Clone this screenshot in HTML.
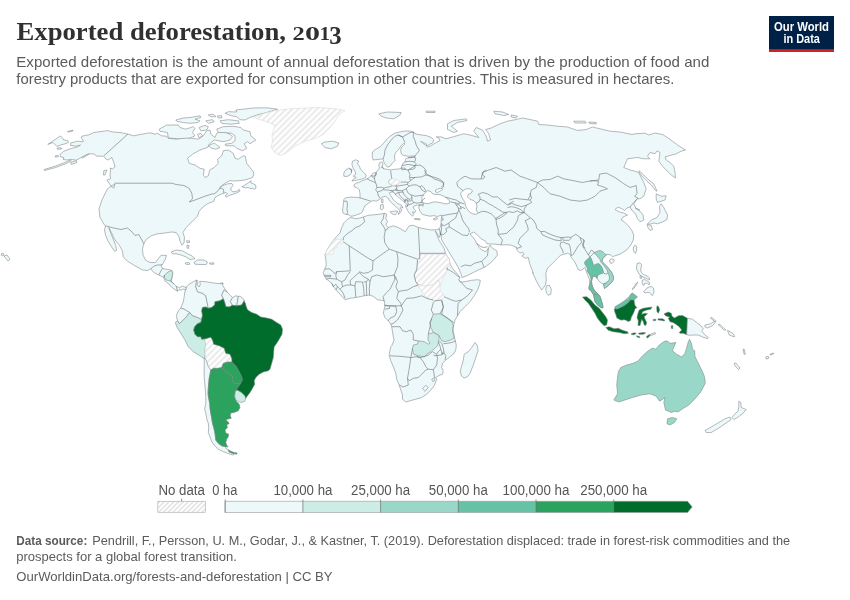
<!DOCTYPE html>
<html lang="en">
<head>
<meta charset="utf-8">
<title>Exported deforestation, 2013</title>
<style>
html,body{margin:0;padding:0;background:#fff;}
body{width:850px;height:600px;overflow:hidden;font-family:"Liberation Sans",sans-serif;}
svg{will-change:transform;display:block;position:absolute;left:0;top:0;}
text{font-family:"Liberation Sans",sans-serif;}
.ttl{font-family:"Liberation Serif",serif;font-weight:bold;fill:#303030;}
.sub{fill:#5b5b5b;font-size:14.2px;}
.ft{fill:#5b5b5b;font-size:13px;}
.lg{fill:#555;font-size:14px;text-anchor:middle;}
.c{stroke:#7b8083;stroke-width:0.55;stroke-linejoin:round;}
.c polyline{stroke:#6c7174;stroke-width:0.6;}
</style>
</head>
<body>
<svg width="850" height="600" viewBox="0 0 850 600">
<defs>
<pattern id="hatch" patternUnits="userSpaceOnUse" width="4.4" height="4.4" patternTransform="rotate(45)">
<rect width="4.4" height="4.4" fill="#fff"/>
<line x1="2.2" y1="0" x2="2.2" y2="4.4" stroke="#e6e6e6" stroke-width="1.6"/>
</pattern>
<pattern id="hatchL" patternUnits="userSpaceOnUse" width="3.4" height="3.4" patternTransform="rotate(45)">
<rect width="3.4" height="3.4" fill="#fff"/>
<line x1="1.7" y1="0" x2="1.7" y2="3.4" stroke="#dadada" stroke-width="1.2"/>
</pattern>
</defs>
<rect width="850" height="600" fill="#fff"/>
<g class="c" fill="#edf8fb">
<polygon points="47.8,144.4 52.5,141.2 60.6,135.9 63.1,138.8 63.8,140 67.8,140.6 68.5,142.5 65,143.8 60.6,145 56.9,146.5 53.1,142.5"/>
<polygon points="67.5,131.5 72.8,130 73,131 68.1,132.1"/>
<polygon points="56.9,148.1 61.2,147.8 61.5,149 57.5,149.2"/>
<polygon points="55,156 58.1,155.4 58.5,156.6 55.6,157.2"/>
<polygon points="44,169.6 55,166.2 65,162.5 70.6,159.8 71.2,161 65.6,163.8 55.6,167.5 44.5,170.5"/>
<polygon points="70.6,162.5 76.2,160.6 76.9,162.5 71.2,164.4"/>
<polygon points="81.2,156.9 88.1,153.5 88.8,154.4 82.5,158.1"/>
<polygon points="103.8,170.6 106.9,170 105,175 103.5,175.0"/>
<polygon points="127.9,134.1 120,132.5 111.9,131.9 107.5,130.6 101.2,131.5 93.8,132.5 88.8,134.8 81.9,136.2 81.2,138.1 83.1,140 83.1,141.9 77.5,141.2 70.6,143.1 70.6,145.4 76.2,146.2 80.6,145 77.5,146.9 71.2,148.5 63.8,151.2 60,154.4 60.6,156.9 63.8,157.5 63.1,159.4 66.9,160 70.6,159.4 76.2,160.2 81.2,157.5 88.1,153.8 93.8,154 96.9,156.2 103.8,156.2 105.6,158.8 108.1,160 111.9,157.5 113.8,162.5 115,166.9 112.5,168.8 110.2,168.1 110.6,170 110,175 110.6,178.8 106.9,180 111.2,186.2 113.8,188.1 115,184 111.2,186.2 107.5,188.8 105.5,192.5 102,200 99,208.8 100,217.5 104.5,225 105.5,225.8 104.5,230 105.5,235 108,241.2 111.2,246.2 114.5,251.2 116.5,250.5 115.8,245.5 113,238.8 110.5,232.5 108.8,227.5 112,233.8 115,240 119.5,245.5 122.5,251.2 123.2,257 127.5,261.2 135,265.8 142.5,270 147.5,270.5 150.8,268.8 153.8,272.5 158.8,275 163.8,277.5 165,281.2 168.8,283.8 170.5,286.2 173.8,288.8 177.5,291.2 179,289.5 181.2,290.2 183.8,289 185.8,290.5 186.5,287 185,287.2 182.5,286 179.5,287.8 176.2,286.2 173.8,283.8 171.2,281.2 172,277.5 172.8,273 171.2,270 166.2,269.2 162.5,268.5 161.2,266.2 162.8,263.8 165,260 166.5,255.5 161.2,255.2 158.8,258 155.5,262.5 150,262.5 145.5,260 143,255 142.5,248.8 143.8,243.8 146.2,239.5 151.2,235.8 157.5,233.8 165,233 171.2,232 176.2,232.5 178.8,236.2 180,241.2 182,245.2 184,243 184.5,237.5 183,232.5 186.2,227.5 192.5,221.2 197.5,216.2 199.2,211.2 202.5,207.5 207.5,203.8 213.8,201.2 215,197.5 220,194.5 226.2,192.5 227.5,194 225.2,195.6 226.2,197.2 228.8,195.6 232.5,194.4 236.2,193.1 239.8,191.2 239.4,189.4 236.9,191.2 233.1,191.9 230.6,190 231.2,187.5 233.1,185.6 231.9,183.5 227.5,183.8 222.5,185.6 219.4,188.1 222.5,185 226.2,182.5 230,180.6 233.8,181 240,180.6 245,180 252.5,177.5 253.8,174.4 253.3,171.7 250,167.5 246.7,163.3 245.3,156.3 243.3,155.8 238.3,159.2 235,158.3 233.3,153.3 228.3,150 223.3,150.8 221.7,155.8 217.5,159.2 218.3,163.3 214.2,167.5 209.7,170 208.3,175.8 205,177.5 203.3,175 204.2,169.2 200,168.3 195,165 189.2,163.3 187.5,158.3 192.5,154.2 200,150 207.5,147.5 209.2,144.2 214.2,140 223.3,141.7 230,140 232.5,136.7 230,134.2 225.8,132.5 220,131.7 216.7,133.3 215,137.5 210.8,134.2 210,130 206.7,130.8 203.3,135.8 198.3,139.2 191.7,138.3 185.8,137.5 176.7,139.2 168.3,138.3 166.7,136.3 161.7,135.8 157.5,133.3 155,134.2 150,132.8 140,134.5 133.8,135.8"/>
<polygon points="159.2,129.2 166.7,125 178.3,125 180,127.5 185.8,129.2 193.3,126.7 195,128.3 192.5,132.5 195,135.8 190,138 178.3,138.7 168.3,138 167.5,132.5 160,131.3"/>
<polygon points="175.8,120 183.3,118 190,117.5 200,115.8 200.8,117.5 195,119.2 200,120.8 198.3,122.5 190,123.3 183.3,122.5 176.7,121.3"/>
<polygon points="235.8,110 253.3,108 266.7,107.8 277.5,109.2 266.7,112.5 256.7,115 250,117.5 245,120 240,119.7 236.7,116.7 231.7,115.8 225,113.3 228.3,111.7 236.7,112.0"/>
<polygon points="220,120.8 228.3,119.7 238.3,120.8 239.2,123.3 230,124.2 221.7,123.3"/>
<polygon points="208.3,115 213.3,114.2 215.8,116.7 210.8,116.7"/>
<polygon points="217.5,115.8 221.7,115.8 221.7,118 218.3,118.0"/>
<polygon points="205.8,120.8 212.5,119.7 214.2,121.7 208.3,123.3"/>
<polygon points="216.7,129.2 223.3,126.7 233.3,126.3 240.8,127.5 243.3,130 250,131.7 250.8,135.8 255.8,140 250,143.7 247.5,141.7 244.2,143.7 246.7,148.3 242.5,150.8 236.7,148.3 234.2,145.8 225.8,145.8 225,144.2 231.7,143.3 235,140.8 235,135.8 231.7,133.3 223.3,132.5 218.3,132.5"/>
<polygon points="199.2,127.5 205,125.3 208.3,126.7 206.7,130 200.8,130.8"/>
<polygon points="197.5,134.2 200.8,133.3 202.5,135.8 199.2,138.0"/>
<polygon points="208.3,145.8 214.2,143 220,147.5 215.8,149.2 211.7,148.3"/>
<polygon points="241.9,186.9 245,185 248.8,182.5 251.2,180.6 250.6,182.5 253.1,183.8 255.6,185 256,188.1 254.4,189.4 252.5,188.1 250,188.8 248.8,187.5 245.6,187.8"/>
<polygon points="171.2,252 176.2,250 182.5,250.8 187.5,253.8 192.5,256.2 195,258.8 190,259.5 186.2,257 181.2,255 176.2,253.8 172.5,253.8"/>
<polygon points="193.8,262.5 197.5,260 203.8,260 207.5,262 206.2,264.5 200,264.5 195,264.2"/>
<polygon points="185,263 188.8,262.5 190,264.2 186.2,264.5"/>
<polygon points="209.5,263 213.8,262.8 213.8,264.2 210,264.2"/>
<polygon points="220.5,283 223,283 222.5,285 220.5,285.0"/>
<polygon points="186.5,240.8 189.5,240.8 189.5,242.5 187,242.5"/>
<polygon points="187,245 189,245.5 188.5,248.5 187,248.0"/>
<polygon points="164.5,275 168,272 172,270.5 172.8,273.8 171.8,278 170.5,281.2 166.2,280 164.5,277.5" fill="#ccece6"/>
<polyline points="127.9,134.1 104,155.6" fill="none"/>
<polyline points="114.5,183.2 171.8,183.2 176.2,184.5 183.8,185.5 188.8,188 191.8,193 192.5,198.8 189.2,202 195,200 205,196.2 212.5,193.8 213.8,194 216.9,191.9 219.4,188.8 221.2,188.1 223.5,189.4 223.8,193.1" fill="none"/>
<polyline points="105.5,225.8 113.8,228 121.2,229.5 127.5,228 131.2,231.2 135,235.5 138.8,234.5 141.2,238.8 143.8,243.8" fill="none"/>
<polyline points="150.8,268.8 153.8,266.2 157,265 161.2,265 162.2,264.0" fill="none"/>
<polyline points="158.8,275 161.2,270.5 162.5,268.5" fill="none"/>
<polyline points="163.8,277.5 164.5,275.0" fill="none"/>
<polyline points="170.5,281.2 173.8,283.8" fill="none"/>
<polyline points="177.5,291.2 176.2,286.2" fill="none"/>
<polygon points="186.5,287 189.2,284.2 193.3,281.7 196.7,280 195.8,286.7 197.5,291.7 202.5,293.3 205.8,295.8 207,301.7 208.3,308.3 205.8,307 202.5,307.5 201.7,310.8 202.5,315 201.7,319.2 200.8,319.2 197.5,317.5 192.5,315.8 189.7,312.5 186.7,310.8 184.2,309.2 180.8,308 181.3,306.7 183.3,301.7 184.2,296.7 185,290.8 185.7,290.5"/>
<polygon points="196.7,280 198,281.3 197.5,285 199.2,287 200.3,284.2 199.7,281.3 205.8,281.7 213.3,283 220,283.7 223,283 222.5,285 225,289.2 227.5,292.5 224.2,290 221.7,295 223.3,298.7 220,300.8 215,301.7 214.7,305 211.7,307.5 208.3,308.3 207,301.7 205.8,295.8 202.5,293.3 197.5,291.7 195.8,286.7"/>
<polygon points="227.5,292.5 230.8,295.8 232.5,297.5 230.3,301.7 232.5,305.3 229.2,307 225.8,306.7 224.7,302.5 223.3,298.7 221.7,295 224.2,290.0"/>
<polygon points="232.5,297.5 235.8,295.8 238.3,296.3 237.5,301.7 236.7,305.8 232.5,305.3 230.3,301.7"/>
<polygon points="238.3,296.3 240,296.3 243.3,298.7 244.2,300.8 241.7,305 236.7,305.8 237.5,301.7"/>
<polygon points="177.5,320.8 176.3,315.8 178.3,310.8 180.8,308 184.2,309.2 186.7,310.8 189.7,312.5 185.8,317.5 182.5,320.8 179.2,323.7"/>
<polygon points="189.7,312.5 192.5,315.8 197.5,317.5 200.8,319.2 201.7,319.2 200.8,322.5 197.5,323.7 194.7,326.7 193.7,330 195,334.2 197.5,336.7 200.8,336.7 201.7,339.2 204.7,339.2 205.8,344.2 205,350 205.3,355 204.2,358.7 200,355.8 193.3,351.7 188.3,346.7 185,340 180.8,333.3 176.7,326.7 175.3,322.5 177.5,320.8 179.2,323.7 182.5,320.8 185.8,317.5" fill="#ccece6"/>
<polygon points="204.7,339.2 205.8,338.7 210.8,337.2 212.5,340 213.7,344.2 219.2,345.8 224.2,348.3 225.8,353.3 230,354.2 231.7,358.3 232,362 227.5,362 223.3,363.3 221.7,367.5 217.5,368.3 213.3,368.3 210.8,370 208.3,366.7 207,362.5 205.3,358.3 205.3,355 205,350 205.8,344.2" fill="url(#hatch)" stroke="#d6d6d6"/>
<polygon points="204.2,358.7 204.2,370 204.2,376.7 204.7,383.3 205.3,390 205.8,396.7 205.8,403.3 204.7,409.2 205.8,413.3 207,420 208.3,423.3 208.7,427.5 208.3,432.5 210,436.7 211.7,441.7 214.7,445.8 218.3,449.2 223.3,451.7 227.5,453.3 232.5,455 234.2,454.2 232.5,453.3 229.2,452 228.3,449.7 225.8,448.3 225.8,446.7 221.7,445.8 218.3,443.3 215.8,440 215.3,435.8 214.7,431.7 213.7,427.5 212.5,423.3 211.7,418.3 210.8,413.3 210,408.3 209.7,403.3 208.7,398.3 208,393.3 208.3,388.3 208.7,383.3 209.2,378.3 210,374.2 210.8,370 208.3,366.7 207,362.5 205.3,358.3"/>
<polygon points="210.8,370 213.3,368.3 217.5,368.3 221.7,367.5 226.7,372.5 230.8,375 233,377 232,379.7 233.7,383 237.5,383.7 241.3,382.5 242.5,380.3 240.8,383.3 238.3,386.7 235.8,390.3 235,393.3 234.7,396.7 235.8,400 236.7,401.7 239.2,404.2 240,407.5 238.3,410.8 234.2,412.5 230.8,413 230.3,415.8 231.3,418.3 227.5,419.2 225.8,420 228.3,422 229.2,423.7 226.7,424.7 227.5,427.5 225,430 225.8,433 228.7,434.2 228.3,436.7 226.7,439.2 225.8,442.5 226.7,445 228,447 225.8,446.7 221.7,445.8 218.3,443.3 215.8,440 215.3,435.8 214.7,431.7 213.7,427.5 212.5,423.3 211.7,418.3 210.8,413.3 210,408.3 209.7,403.3 208.7,398.3 208,393.3 208.3,388.3 208.7,383.3 209.2,378.3 210,374.2 210.8,370.0" fill="#2ca25f"/>
<polygon points="228.3,449.7 230.8,451.3 234.2,452.5 237.2,453 236.7,454.2 232.5,453.3 229.2,452.0" fill="#2ca25f"/>
<polygon points="235.8,390.3 237.5,390 241.7,392.5 245,395.8 245.8,398.3 244.7,401.3 241.7,402.5 238.3,401.7 235.8,400 234.7,396.7 235,393.3" fill="#ccece6"/>
<polygon points="223.3,363.3 227.5,362 232,362 234.2,364.2 235.8,365.8 238.3,370 240,373.3 241.7,376.7 242.5,380 242.5,380.3 241.3,382.5 237.5,383.7 233.7,383 232,379.7 233,377 230.8,375 226.7,372.5 221.7,367.5" fill="#2ca25f"/>
<polygon points="223.3,298.7 220,300.8 215,301.7 214.7,305 211.7,307.5 208.3,308.3 205.8,307 202.5,307.5 201.7,310.8 202.5,315 201.7,319.2 200.8,322.5 197.5,323.7 194.7,326.7 193.7,330 195,334.2 197.5,336.7 200.8,336.7 201.7,339.2 205.8,338.7 210.8,337.2 212.5,340 213.7,344.2 219.2,345.8 224.2,348.3 225.8,353.3 230,354.2 231.7,358.3 232,362 234.2,364.2 235.8,365.8 238.3,370 240,373.3 241.7,376.7 242.5,380 240.8,383.3 238.3,386.7 235.8,390.3 237.5,390 241.7,392.5 245,395.8 245.8,398.3 247.5,395.8 250,392.5 252.5,388.3 254.7,384.2 254.2,380.8 255.8,377.5 259.2,374.2 263.3,372 268.3,370.8 270,369.2 271.7,363.3 273.3,357.5 273.7,351.7 274.2,346.7 276.7,343.3 279.2,339.2 282,334.2 282.5,329.2 280.8,325 276.7,322.5 271.7,319.2 266.7,318 260.8,317 256.7,314.2 251.7,312.5 247.5,309.7 246.3,306.7 245.3,303.3 244.2,300.8 241.7,305 236.7,305.8 232.5,305.3 229.2,307 225.8,306.7 224.7,302.5" fill="#006d2c"/>
<polygon points="350.8,217.5 355.8,218.7 360,218 363.3,217 368.3,215.3 375,214.7 380,214.2 384.2,213.3 386.7,214.2 385.8,218.3 387.5,221.7 385.8,225 388.3,227.5 393.3,225.8 398.3,227.5 402.5,230 405.3,231.7 407.5,228.3 409.2,225.8 413.3,225.3 418.3,227.5 424.2,228.7 430.8,230 436.7,229.7 439.2,228.7 440.7,233.3 439.3,237.5 437,233.7 435.3,230.8 439.2,240.8 444.2,248.3 445.8,254.2 449.2,259.2 450,264.2 452.5,268.3 456.7,273.3 460,277.5 458.7,280 460.8,282 465,281.7 471.7,280.3 477.5,279.7 480.3,280.3 479.7,284.2 477.5,290 474.2,295.8 470,301.7 465,306.7 460,311.7 457.5,315.8 455,320 453.7,325 453,330 454.2,335.8 455,340 456.3,345 455.8,350 454.2,353.3 450,356.7 445.8,360 442.5,363.3 441.7,367.5 443.3,370.8 442.5,374.2 438.3,375.8 435.8,377.5 436.7,379.2 435.8,381.7 434.2,385.8 430.8,390 426.7,394.2 421.7,397.5 415.8,399.2 410,400.8 405.8,402 402.5,399.2 402.5,395 400.8,390 399.2,385 396.7,379.2 395.8,373.3 393.3,366.7 390.8,360.8 389.2,355.8 389.7,351.7 390.8,346.7 391.7,345.8 394.2,340 393.3,336.7 392.5,331.7 391.7,326.7 390.8,324.2 388.3,320.8 385,317.5 383.3,313.3 384.2,309.2 385,305.8 384.2,300.8 381.7,300.3 377.5,299.7 373.3,296.3 369.2,295 364.2,295.8 360,296.7 355.8,297.5 350,298.3 345,299.7 340,294.2 336.7,290.8 334.2,287.5 331.7,283.3 326.7,279.2 324.2,275.8 323.3,272.5 324.7,269.2 326.3,265 325.8,260 325,254.7 327.5,249.2 330,245 332.5,241.7 334.2,239.2 340,233 341.7,227.5 344.2,222.5 347.5,219.2"/>
<polygon points="475,342.5 477.5,345.8 478,350.8 475.8,357.5 473.3,365 470,373.3 467.5,376.7 464.2,378 461.3,375.8 460.3,370.8 461.7,365.8 463.3,360 464.2,354.2 468.3,351.7 471.7,347.5"/>
<polygon points="334.2,239.2 343.3,239.7 343.3,243 337.5,243.3 336.7,248 333.7,248.7 333,254.2 325,254.7 327.5,249.2 330,245 332.5,241.7" fill="url(#hatch)" stroke="#d6d6d6"/>
<polygon points="420,254.2 445.8,254.2 449.2,259.2 450,264.2 447.5,267.5 445.8,273.3 442.5,279.2 440,285 440,290 442.5,293.3 444.2,296.7 441.7,300 436.7,300.8 432.5,300 427.5,299.2 424.2,295 420.8,290 417.5,285.8 415.8,281.7 414.2,275.8 415,271.7 417.5,267.5 417.5,260 420,259.2" fill="url(#hatch)" stroke="#d6d6d6"/>
<polyline points="417.5,285.8 420,284.2 423.3,285.8 428.3,285.8 433.3,284.2 436.7,280.8 438.7,280 440,285.0" fill="none" style="stroke:#d0d0d0"/>
<polygon points="433.3,314.2 440,313.7 446.7,317.5 451.7,321.7 453.3,325 452.5,330 454.2,338.3 450.8,340 445,341.7 441.7,340.8 439.2,335.8 436.7,334.2 433.3,332.5 430.8,327.5 430,322.5 431.7,318.3" fill="#ccece6"/>
<polygon points="428.3,334.2 433.3,332.5 436.7,334.2 439.2,335.8 438.7,341.7 437.5,345.8 435,348.3 431.7,350.8 428.3,353.3 424.2,356.7 418.3,355.8 413.3,354.2 412.5,348.3 413.3,345 417.5,344.2 418.3,340.8 424.2,341.7 428.3,344.2 430,343.3 428,340.0" fill="#ccece6"/>
<polyline points="363.3,217 364.7,221.7 360,225.8 355.8,227.5 351.7,230.8 346.7,234.2 343.3,237.5 343.3,240.0" fill="none"/>
<polyline points="384.2,213.3 383,219.2 380.8,222.5 384.2,227.5 385.3,230 386.7,230 388.3,227.5" fill="none"/>
<polyline points="385.3,230 384.2,236.7 384.7,242.5 386.7,245.8 389.2,249.2 383.3,253.3 373,260.8 368.3,258.3 349.2,245.8 343.3,241.7" fill="none"/>
<polyline points="389.2,249.2 396.7,251.7 417.5,259.2 419.7,258.3 419.7,253.3 418.3,227.5" fill="none"/>
<polyline points="419.7,253.3 445,253.3" fill="none"/>
<polyline points="349.2,245.8 350.3,270.8 336.7,271.7 335,273.7 332.5,271.3 329.2,268.7 324.7,269.2" fill="none"/>
<polyline points="396.7,251.7 398,258.3 397.5,266.7 394.2,275.0" fill="none"/>
<polyline points="373,260.8 372.5,270 368.3,272.5 363.7,273.3 359.2,271.7" fill="none"/>
<polyline points="336.7,271.3 335.8,275.8 336.7,279.2 330,278.3 325.8,279.2" fill="none"/>
<polyline points="324.2,275.3 330.8,275.3 330.8,276.7 324.7,276.7" fill="none"/>
<polyline points="336.7,279.2 341.7,281.7 342.5,286.7 340,289.2 337.5,286.7 335.8,284.2 333.3,286.7 331.7,283.3" fill="none"/>
<polyline points="340,289.2 343.3,293.3 345,298.3" fill="none"/>
<polyline points="337.5,286.7 335.8,290.0" fill="none"/>
<polyline points="342.5,286.7 346.7,285 350.8,285 355,285.8 355.8,297.5" fill="none"/>
<polyline points="355,285.8 355.8,281.7 362.5,282 363.7,288.3 364.2,295.8" fill="none"/>
<polyline points="363.7,282 366.3,281.7 366.7,295.5" fill="none"/>
<polyline points="366.3,281.7 368.3,279.2 370,281.7 369.3,288.3 369.5,295.3" fill="none"/>
<polyline points="350.8,285 350,280.8 353.3,277.5 359.2,272.5 363.7,276.7 368.3,279.2" fill="none"/>
<polyline points="341.7,281.7 345,280 347.5,275 350.3,271.7" fill="none"/>
<polyline points="370,281.7 371.7,276.7 376.7,275 383.3,276.7 390,275.8 394.2,275 395.8,277.5" fill="none"/>
<polyline points="384.2,300.8 383,296.7 386.7,292.5 390,289.2 393.3,282.5 395.8,277.5 397.5,281.7 395.8,286.7 398.3,291.7 396.7,298.3 400.8,303.3 401.3,305.8" fill="none"/>
<polyline points="394.2,275 395,279.2" fill="none"/>
<polyline points="417.5,260 416.7,270 414.2,275 415.8,281.7 418.3,285 413.3,286.7 407.5,290 401.7,290.8 398.3,291.7" fill="none"/>
<polyline points="384.2,305 388.3,305.8 395.8,305.8 401.3,305.8 404.2,301.7 406.7,298.3 413.3,298 421.7,295.8 426.7,298.3 433.3,300.0" fill="none"/>
<polyline points="385,305.8 389.2,305.8 389.7,308.3 385,309.2" fill="none"/>
<polyline points="389.7,305.8 395.8,306.3 396.7,311.7 395,315.8 390,318.3 388.3,320.8" fill="none"/>
<polyline points="401.3,305.8 403,310 400,315.8 397.5,320 393.3,323.3 390.8,324.2" fill="none"/>
<polyline points="391.7,326.7 400,326.7 402.5,330.8 406.7,331.7 410.8,330 413.3,334.2 413.3,340 417.5,340.8 418.3,340.8" fill="none"/>
<polyline points="390,355.8 400,356.3 410.8,357.5 416.7,356.7 420,357.5" fill="none"/>
<polyline points="412.5,348.3 410.8,357.5" fill="none"/>
<polyline points="433.3,355 435,355.8 441.7,355 443.3,351.7" fill="none"/>
<polyline points="433.3,314.2 431.3,310 433.3,302.5 435,300.8 441.7,300 443.3,307.5 440,313.7" fill="none"/>
<polyline points="430,322.5 431.3,320 431.7,318.3" fill="none"/>
<polyline points="428.3,334.2 429.2,330 430.3,325.8 430,322.5" fill="none"/>
<polyline points="447.5,267.5 446.7,269.2 449.2,270 453.3,272.5 457.5,275.8 460,277.5" fill="none"/>
<polyline points="458.7,280 460.8,282 466.7,288.3 472.5,290 467.5,295.8 461.7,300 455.8,301.3 451.7,300 445.8,297.5 444.2,296.7" fill="none"/>
<polyline points="461.7,300 458,303.3 457.5,315.8" fill="none"/>
<polyline points="441.7,314.2 453.7,322.5" fill="none"/>
<polyline points="441.7,300.8 443.3,306.7 441.7,314.2" fill="none"/>
<polyline points="410.8,357.5 410,363.3 408.7,371.7 407.5,378.3 408.3,385 403.3,387 399.2,385.0" fill="none"/>
<polyline points="407.5,378.3 409.2,380.8 413.3,378.3 418.3,377.5 421.7,374.2 425.8,370 428.3,369.2 433.3,369.7 434.2,375 434.7,378.3" fill="none"/>
<polyline points="420,357.5 423.3,361.7 425.8,366.7 428.3,369.2" fill="none"/>
<polyline points="433.3,369.7 436.7,365 437.5,358.3 436.7,354.2 432.5,351.7 428.3,355 424.2,356.7 420,357.5 416.7,356.7" fill="none"/>
<polyline points="439.2,340.8 441.7,343.3 443.3,348.3 444.2,353.3 442,354.2 440.8,349.2 439.7,345 438.3,341.7" fill="none"/>
<polyline points="436.7,354.2 438.3,351.7 440.8,349.2" fill="none"/>
<polyline points="444.2,353.3 445.8,355.8 445,360.0" fill="none"/>
<polyline points="455.8,340.8 451.7,342.5 447.5,343.3 443.3,343.7" fill="none"/>
<polygon points="422.5,388.3 425.8,385.3 428.3,387.5 425,391.3"/>
<polygon points="431.7,379.2 433.7,378 435,380 433,381.7"/>
<polygon points="373.1,160 372.2,156.2 372.5,151.9 375.6,149.4 380,146.9 383.1,143.8 386.2,140 390,136.2 395,133.1 400,131.9 405,131 410,131 413.8,132.2 415,133.8 420,134.8 426.2,135.6 431.2,137.5 433.8,140 432.5,143.1 429.4,144.4 426.9,146.2 426.2,143.8 423.1,142.5 420.6,141.2 422.5,143.1 426.2,145.6 427.5,146.9 430,146.2 433.1,144.4 436.2,142.5 440,140.6 438.8,138.1 436.2,136.9 441.2,136.9 446,138.8 452.5,137 463.8,133.8 470,135 478.8,137.5 473.8,131.2 476.2,127.5 482.5,130 486.2,136.2 487.5,141.2 490.5,140 488.8,133.8 485.5,129.5 491.2,128 495,126.2 500,123.8 507.5,121.2 516.2,119.5 522.5,118 530,119.5 537.5,121.2 538.8,124.5 547.5,125 557.5,126.2 567.5,127 577.5,130.5 586.2,129.5 592.5,127 600,128.8 610,131.2 620,132 632,134.5 635,133.8 645,133.2 648.8,135 655,133 662.5,134.5 667.5,137.5 672.5,141.2 677.5,145 685.5,150 681.2,151.2 676.2,153.8 670,155.5 665,157 666.2,160 670,162.5 673.8,166.2 675,172.5 675.5,178 671.2,175 666.2,170 662.5,166.2 658.8,161.2 659.5,156.2 660,152.5 657,150.8 655,153.8 650,152.5 647.5,156.2 650,158.8 643.8,158.8 637.5,157.5 627.5,158.8 623.8,167.5 630,170 635,171.2 638.8,172.5 641.2,177.5 643.8,182.5 646.2,188.8 643.8,196.2 640,198.8 637.5,198.8 636.2,200 633.8,203.8 636.2,208.8 640,211.2 643,215 643.8,220 640,221.8 637.5,218.8 635.5,213.8 632.5,211.2 630,207 627,208 624.5,210.5 622,208.8 618,207 615,209.5 619.5,212 623.8,213 627.5,215 623,217 621.2,220 624.2,221.7 628.3,225.8 631.7,230 633.7,235 633.3,240 630.8,245 626.7,250 620,254.2 615,255.8 612.5,256.7 610.8,255 606.7,254.2 606.5,255 604.5,256.5 602.5,259 602.2,261.5 604,263.5 606.5,266 609.5,269.5 612,273 613.5,277 613.5,279.5 612,282 609.5,284.5 607,286.5 604.5,288.5 604,286 603.5,284 601.8,283.5 600,282 598.5,280.5 597.2,278.5 596.2,277.2 594.5,276.2 592.8,276.5 592.2,278.5 591.5,281.5 591.8,284 592.5,286.5 593.5,289 595,291 596.5,292.5 597.8,294 599.5,295.5 600.5,297.5 601.2,300 602.5,304.2 603,308 600.8,307.5 597.5,305 595,301.7 593.5,294.8 592,292.5 590.5,290 589,289.5 589,287 589.8,284 589.5,279.5 588.5,277 587.5,274.5 586.5,272 585.5,269.5 585,267.5 584,268.5 582.5,269.5 580.5,270.5 578.5,269.8 577.5,268 576,264.5 574.5,261.5 572.5,259 570.8,256.7 570,254.2 567.5,253.3 564.2,254.2 560.8,255 557.5,258.3 552.5,263.3 547.5,268.3 545.8,273.3 546.3,280.8 545,285.8 541.7,290 540,287.5 536.7,281.7 532.5,272.5 533.3,273.3 530.8,266.7 529.2,261.7 528.3,257.5 525,258.3 521.7,255.8 524.2,254.2 522.5,252 520,253.3 517.5,250.8 515.8,247 511.7,245.3 506.7,244.7 501.7,245 495.8,244.2 487,243.8 485.5,241.2 481.2,238.8 477.5,235 473.8,232 470,233.8 475,240 476.7,243.3 479.2,247.5 481.7,250 485.8,251.7 488.3,248.3 490,245 492.5,248.3 496.7,250.8 497.5,255 494.2,259.2 490,263.3 484.2,267.5 480,269.2 473.3,272.5 466.7,275.8 462,277.5 460.8,273.3 458.3,267.5 455,261.7 450.8,255 445.8,246.7 441.7,240 440.7,233.3 439.2,228.7 440,227.5 441,223.8 441.2,220 441.5,216.9 441.9,215 440,215.6 437.5,216.5 433.8,215.6 430,216.2 426.9,215.6 422.5,214.4 420,211.2 418.8,207.5 419.4,204.4 423.1,206.2 423.1,205 421.2,204.4 419.4,205.6 417.5,205 415,205.6 413.1,206.9 413.8,208.8 415.6,210.6 415,212.5 412.5,211.9 413.8,214.4 412.5,216.2 411.2,215 409.4,213.1 407.5,210.6 406.9,208.8 405.6,206.9 406.2,203.8 405,202.5 402.5,200.6 399.4,198.1 396.9,195.6 395,194.4 393.8,192.2 391.9,191.9 389.4,192.8 390,194.4 391.2,196.2 393.1,199.4 395.6,201.9 398.1,203.8 401.2,205 403.1,208.1 401.9,206.9 399.8,208.1 401.9,209.4 400.6,212.5 398.1,214.4 399,212.5 400,210.6 398.1,208.8 395.6,206.2 392.5,203.8 390,201.2 388.1,198.1 385.6,196.2 383.1,196.9 380.6,198.1 378.8,200 376.2,201.2 373.8,200.6 371.2,201.2 368.8,203.1 365.6,205 363.8,208.1 362.5,211.9 360,213.8 356.2,215 353.1,216 350.6,216.2 348.8,214.8 345.6,214.4 343.1,213.1 342.5,210 343.1,206.2 343.5,202.5 343.8,199.4 345.6,197.8 350,197.2 355,197.2 360,197.8 360,193.8 359.4,190 357.5,188.1 354.4,186.9 353.8,185 356.2,183.1 358.8,182.5 361.2,181.2 364.4,180 366.9,178.8 369.4,177.5 371.2,175.6 373.1,173.1 376.2,172.5 376.9,171.2 378.8,169.4 379.4,168.1 378.8,165 379.8,162.5 381.9,161.9 383.1,163.8 382.5,166.2 381.9,167.5 383.8,168.8 387.5,169.4 390.6,170 393.8,169.4 398.8,169 401.2,168.1 401.9,165.6 403.1,163.1 405,161.9 405.6,158.8 408.1,157.8 415,156.9 415,156 408.1,156.2 403.8,155.6 401.2,153.8 400.6,150 401.9,146.9 405,143.8 403.8,143.1 401.2,145.6 398.8,149.4 395.6,152.5 394.4,156.2 395,160.6 392.5,163.1 390,166.2 387.5,167.2 385.6,165 383.8,161.9 383.1,158.8"/>
<polygon points="421.9,196.9 424.4,193.8 427.5,190.6 430.6,191.5 432.5,193.8 435,194.4 438.1,194.4 441.2,195 445,196.9 448.1,199.4 450,201.2 449.4,203.1 446.2,204 442.5,203.1 438.1,202.2 433.8,201.9 430,203.1 426.9,203.8 423.8,203.1 421.9,201.2" fill="#ffffff"/>
<polygon points="435.6,190 438.1,188.8 441.2,188.1 442.5,189.4 440,191.2 437.5,192.5 435.6,191.9" fill="#ffffff"/>
<polygon points="460.6,193.1 463.1,190.6 466.2,188.8 470,188.8 472.5,190.6 471.2,193.1 468.1,194.4 467.5,196.9 470,199.4 473.8,200.6 476.2,203.1 476.9,206.2 476.2,210 478.1,213.1 476.2,214.4 472.5,213.8 469.4,211.9 466.9,208.8 465.6,205.6 465,202.5 463.1,199.4 461.2,196.2" fill="#ffffff"/>
<polygon points="352.5,161.2 355.6,159.8 358.8,161.2 357.5,163.8 359.4,166.2 360.6,169.4 363.8,172.5 366.2,175 365.6,177.5 363.1,178.8 358.8,179.8 354.4,180.6 351.9,181 353.8,178.8 356.2,177.5 353.1,176.2 355.6,174.4 355,171.2 353.1,168.1 351.9,164.4"/>
<polygon points="343.8,173.1 345.6,170 348.8,168.1 351.9,169.4 351.5,172.5 350,175 346.9,176.5 343.8,176.2"/>
<polygon points="321.2,143.8 325,142 332.5,141.2 338.8,143 337.5,146.2 331.2,148.8 325,147.5"/>
<polygon points="378.8,113.8 387.5,112 401.2,112.5 400,115 393.8,118.8 386.2,118 381.2,116.2"/>
<polygon points="447.5,123.8 453.8,120.5 466.2,118.8 467,120.5 457.5,122.5 451.2,126.2 457.5,131.2 453.8,132.5 447.5,129.5"/>
<polygon points="493.8,111.2 502.5,112 508.8,114.5 503.8,115.5 495,113.8"/>
<polygon points="511.2,115 517.5,116.2 516.2,118 511.2,117.0"/>
<polygon points="573.8,121.2 585,121.2 586.2,123 575,123.0"/>
<polygon points="588.8,122 596.2,122.5 596.2,124 589.5,123.5"/>
<polygon points="426.2,111.2 435,111.2 435,112.5 426.2,112.5"/>
<polygon points="390,211.9 393.8,211.2 397.5,211 396.9,213.1 395,214.8 391.9,213.8"/>
<polygon points="380.6,205 383.1,204.4 383.5,208.1 381.9,210 380.2,208.8"/>
<polygon points="381.2,199.4 382.8,199 383.1,202.5 381.9,203.1"/>
<polygon points="414.4,218.5 420,218.8 420,219.8 414.8,219.5"/>
<polygon points="433.1,219 436.9,217.5 437.8,218.5 435,220.2"/>
<polygon points="639.2,170.8 643.8,175 648.8,180 653.8,183.8 657,191.2 655.5,190.5 651.2,185 646.2,180.5 642,176.2 638.8,172.0"/>
<polygon points="656.2,193.8 661.2,196.2 666.2,195.8 665,200 661.2,201.2 657.5,202.5 656.2,198.8"/>
<polygon points="661.2,203.8 663.8,207.5 667.5,215 667,219.5 662.5,222 657.5,223.8 653.8,223 650,224.2 647.5,223.8 651.2,220 657,217.5 660,212.5 659.5,206.2"/>
<polygon points="647,224.5 651.2,225.5 652.5,229.5 650,230.5 648,227.5"/>
<polygon points="634,246 635.5,245.2 636.8,247 636.5,250.5 635.5,253.5 634,251.8 633.2,249.0"/>
<polygon points="609.5,260 611.5,258.8 614,259.5 614,261.5 612,263.5 610,262.8"/>
<polygon points="546.7,285.8 549.2,285 551.3,289.2 550.8,294.2 548.3,295.3 546.3,292.5 545.8,288.3"/>
<polygon points="637,263.5 640,262.8 641.5,264.5 641.2,267.5 640.5,270 641.5,272.5 643.5,274.5 646,275.5 648.5,277 650,279 649,280 646.5,278.5 644,277.5 641.5,276.5 639.5,274.5 638,272 636.5,269 636.8,266.0"/>
<polygon points="640,275.5 641.8,276 641.5,278.5 640,278.0"/>
<polygon points="642.5,280 645,279.5 647,281 649,282 650,284 648,284.5 646.5,283 644.5,283.5 644,285.5 642.5,284.5 642,282.0"/>
<polygon points="632,289 634,286.5 636.5,283 637.8,282 637.2,283.5 635,287 632.8,289.5"/>
<polygon points="643.5,291.5 645.5,290 647,288 649,287 651.5,286.5 653.5,288 654,292 652.5,295.5 651,294.5 649.5,292.5 647,292.5 645,293.0"/>
<polygon points="594,252.8 596.5,251.5 600,250.5 602.5,251.5 604.5,253.5 606.5,255 604.5,256.5 602.5,259 602.2,261.5 604,263.5 606.5,266 609.5,269.5 612,273 613.5,277 613.5,279.5 612,282 609.5,284.5 607,286.5 604.5,288.5 604,286 603.5,284 605.5,283 607.5,281.5 609.2,280 609.5,277 608.5,274.5 608,273 607,270 604.5,266.5 602.5,264 600.5,261.5 600,259.5 598,257 596.2,255.0" fill="#99d8c9"/>
<polygon points="590,257 587.5,259 585,261.5 584.5,263.5 586,266 587.5,268.5 587,270.5 588,272.5 589.5,274.5 590.5,277 591,279.5 590.5,281.5 589.8,284 589,287 589,289.5 590.5,290 592,292.5 593.5,294.8 596.2,294.5 597.8,294 596.5,292.5 595,291 593.5,289 592.5,286.5 591.8,284 591.5,281.5 592.2,278.5 592.8,276.5 594.5,276.2 596.2,277.2 597.2,278.5 597.5,276.5 598.2,275 600,274 602.5,273.5 603.5,272.5 603,270 601.8,267 600,264.5 598.5,263.5 596.2,264 594.5,265 593.2,264.5 592.8,262.5 591.8,260 591,258.0" fill="#66c2a4"/>
<polygon points="593.5,294.8 596.2,294.5 597.8,294 599.5,295.5 600.5,297.5 601.2,300 602.5,304.2 603,308 600.8,307.5 597.5,305 595,301.7" fill="#66c2a4"/>
<polyline points="590,257 590.5,256.5 592.5,254.5 594,252.8" fill="none"/>
<polyline points="603.5,272.5 604,273.5 606.5,274 608,273.0" fill="none"/>
<polyline points="603.5,284 605.5,283.0" fill="none"/>
<polygon points="582.5,297 586.7,296.7 590.8,300 595,305 599.2,308.3 602.5,312.5 605.8,316.7 607.5,320 606.7,325 604.2,325.8 600.8,322.5 597.5,318.3 595,313.3 591.7,308.3 588.3,303.3 585,300.0" fill="#006d2c"/>
<polygon points="605.8,327.5 609.2,326.7 614.2,328.7 618.3,328.3 622.5,330.3 627.5,331.7 628.3,333.3 624.2,333.7 619.2,332.5 613.3,331.7 608.3,330.3" fill="#006d2c"/>
<polygon points="631.3,333.7 634.2,332.8 636.3,333.3 634.2,334.7 631.7,334.7" fill="#006d2c"/>
<polygon points="638.3,333.3 643.3,332.5 645.8,332.8 643.3,334.3 639.2,334.3" fill="#006d2c"/>
<polygon points="636.3,335.8 639.2,336.3 640,337.7 637.5,337.3" fill="#006d2c"/>
<polygon points="646.3,337 648.3,335 650.3,334.3 649.7,336 647.5,338.0" fill="#006d2c"/>
<polygon points="650.3,334.3 655,332.5 655.8,333.7 651.7,335.3 649.7,336.0"/>
<polygon points="615,308.1 616.2,309 618.1,308.5 621.2,307.1 624.4,305.4 626.9,303.5 629.4,301.2 629.8,299.8 632.8,299.8 634,300 634.4,302.5 635,305.6 636.9,307.5 635,308.8 634,311.9 632.8,314.4 631.2,317.5 630.6,320.6 628.1,321.5 625.6,320 623.1,319.8 621.2,320.2 618.8,319 616.9,318.1 616,315 614.8,311.9 614.4,309.4" fill="#006d2c"/>
<polygon points="614.8,306.9 616.9,305.6 620,303.8 623.8,301.2 626.9,299 629,296.9 630.6,294.4 632.2,292.9 634.4,294.4 637.5,296.9 635.6,298.5 634,300 632.8,299.8 631,300 629.8,299.8 629.4,301.2 626.9,303.5 624.4,305.4 621.2,307.1 618.1,308.5 616.2,309 615,308.1" fill="#66c2a4"/>
<polygon points="626.9,298.5 628.5,297.8 629,299.5 627.5,300.0"/>
<polygon points="639.2,310 643.3,308.3 648.3,307.5 652,307 650.8,309.2 645.8,310.3 642.5,311.7 641.7,314.2 645,313.3 647.5,313.7 644.2,316.7 645,319.2 646.7,322.5 645.8,325.5 644.2,325 643.3,321.7 641.7,319.2 640.8,322.5 640,325.5 638,325.5 638.3,320.8 637,317.5 638,313.3" fill="#006d2c"/>
<polygon points="657,305.8 658.7,306.7 659.7,310 658.3,313.3 657,311.7 656.7,308.3" fill="#006d2c"/>
<polygon points="653,319.5 655.8,319.2 655.8,320.5 653.3,320.7" fill="#006d2c"/>
<polygon points="658,318.8 662.5,318.8 664.7,320 664.2,321 660.8,320.3 658,320.0" fill="#006d2c"/>
<polygon points="664.2,313.7 668.3,312 671.3,313.3 672,316.3 674.7,318 678.3,315.8 682.5,315.5 687.5,318.3 686.7,334.7 683.3,333.3 680,333.3 679.2,332.5 681.7,330 679.2,326.7 675.8,324.2 673,322.5 670,321.7 668.3,318.3 669.7,317 666.7,316.3 664.7,315.0" fill="#006d2c"/>
<polygon points="671.3,325.8 672.7,325.5 672.7,328.7 671.3,328.3" fill="#006d2c"/>
<polygon points="687.5,318.3 692.5,319.2 696.7,322.5 700.8,325.8 703.3,328.7 701.7,330.8 705,335 708.3,337.5 707.5,338.7 702.5,337 698.3,335 694.2,335 690,335.3 686.7,334.7"/>
<polygon points="705,325 710.8,323.7 715,320.8 715.8,321.7 712.5,325.8 707.5,328 704.7,326.7"/>
<polygon points="710.3,318 711.7,317.5 715.8,320.8 715,321.7"/>
<polygon points="718.3,324.7 720,324.3 725.8,330 724.2,330.3"/>
<polygon points="727.5,330.3 733.3,333.7 734.7,336.7 732.5,336.3 729.2,335.0"/>
<polygon points="743,349.2 744.2,349.2 745.3,354.2 744.2,354.5"/>
<polygon points="734.2,363.3 735.8,363 740,368 738.7,369.7 735,365.8"/>
<polygon points="765.8,357 768.3,356.3 768.7,358.3 766.3,359.2"/>
<polygon points="770,354.2 773.3,353 773.7,354 770.3,355.0"/>
<polygon points="616.7,384.7 618.3,371.7 620.8,367.5 626.7,365 633.3,363.3 638.3,360.8 641.7,356.7 644.2,354.2 648.3,350.8 652.5,348 655.8,349.2 659.2,345 662.5,342.5 665.8,340.8 668.3,341.7 670,343.3 675.8,342.5 673.3,348.3 672.5,350.8 676.7,354.2 681.7,357 685,353.3 686.7,347.5 688.3,341.7 689.7,339.2 691.7,344.2 692.5,349.2 694.7,350.8 695,356.7 698.3,363.3 701.7,370 704.2,375.8 705.3,381.7 705,383.8 701.2,391.2 695,398.8 688.8,405 682.5,408.8 678,412 675,411.2 671.2,412.5 665.5,410 663.8,402.5 665,397.5 662.5,399.5 659.5,401.2 656.2,396.2 650,393.8 641.2,395 632.5,397.5 625,400 618.8,402 613.8,400 617.5,393.8 617,387.5" fill="#99d8c9"/>
<polygon points="667.5,418.8 672.5,417.5 676.8,418.8 674.5,422.5 670,425 667,423.8" fill="#99d8c9"/>
<polygon points="738.8,401.2 740.8,402.5 741.2,407.5 746.2,409.5 742.5,413.8 737.5,417.5 733.8,419.5 732,417.5 735,413.8 738,411.2 738.8,406.2"/>
<polygon points="730,417 731.2,419.5 725,423.8 717.5,428.8 711.2,432.5 706.2,432.5 705,430.5 711.2,427 718.8,422.5 725,418.8"/>
<polygon points="253.8,117.5 262.5,113.8 275,110.5 290,108.8 305,108 320,107.5 335,108.8 345,110.5 338.8,115 335,121.2 330,127.5 322.5,135 313.8,138.8 305,141.2 295,146.2 285,153.8 280,155.5 275,152.5 271.2,147.5 272.5,141.2 272,135 275,125 265,121.2" fill="url(#hatch)" stroke="#d6d6d6"/>
<polygon points="4,256 7,255 10,259 8,261.0"/>
<polygon points="1,254 3,253 4,255 2,256.0"/>
<polyline points="360,197.8 365,199.4 370.6,201.0" fill="none"/>
<polyline points="343.8,201.2 346.9,201.2 347.5,205 346.9,208.8 347.5,212.5 346.9,214.4" fill="none"/>
<polyline points="366.9,178.8 370.6,180.6 373.8,181.9 375.6,183.1 376.2,183.8 376.9,187.5 375.6,190 376.9,191.2 377.5,191.9 378.1,195 379.8,198.1" fill="none"/>
<polyline points="376.9,187.5 381.2,187.2 383.8,188.1 383.1,190 380,191.2 377.5,191.9" fill="none"/>
<polyline points="383.8,188.1 385.6,187.5 389.4,186.9 392.5,185.6 396.2,186.2 396.9,188.1 395,190 391.2,190.6 387.5,190 383.8,189.8" fill="none"/>
<polyline points="376.2,172.5 375,176.2 374.4,178.8 375.6,183.1" fill="none"/>
<polyline points="371.2,175.6 373.1,177.5 374.4,178.8" fill="none"/>
<polyline points="390.6,170.6 391.2,175 391.9,178.8 388.8,180.6 389.4,183.8 392.5,185.6" fill="none"/>
<polygon points="388.8,180.6 391.9,178.8 395,179 398.8,180.6 401.2,182.2 398.8,183.8 396.2,184.8 392.5,185.6 389.4,183.8" fill="url(#hatch)" stroke="#d6d6d6"/>
<polyline points="401.2,182.2 405,181.9 408.1,182.5 410.6,180.6 409.4,177.5 410,174.4 408.1,170.2" fill="none"/>
<polyline points="396.2,184.8 396.9,186.2 400,185.6 403.8,185 407.5,184.4 408.1,182.5" fill="none"/>
<polyline points="407.5,184.4 408.8,186.2 406.2,188.8 402.5,190.6 398.8,190.6 396.2,189.4 396.9,188.1" fill="none"/>
<polyline points="408.8,186.2 412.5,185 416.2,184.8 420,186.9 421.9,190 425,191.9" fill="none"/>
<polyline points="406.2,188.8 408.1,193.1 411.2,195 415,196.2 420,195.6 424,195.0" fill="none"/>
<polyline points="420,186.9 421.9,185.6 424.4,188.1 425.6,190.6 425,191.9" fill="none"/>
<polyline points="411.2,195 411.9,197.5 411.9,200 413.8,202.5 417.5,203.1 421.2,202.5 422.5,200 425,198.1" fill="none"/>
<polyline points="406.9,206.9 408.1,204.8 411.9,203.8 413.8,202.5" fill="none"/>
<polyline points="421.2,202.5 423.1,203.1 423.5,204.8" fill="none"/>
<polyline points="393.8,192.2 391.2,190.6" fill="none"/>
<polyline points="395,190 396.9,190.6 398.8,190.6" fill="none"/>
<polyline points="395,194.4 396.9,193.1 398.8,192.5 402.5,191.9 403.1,192.8 402.5,190.6" fill="none"/>
<polyline points="398.8,192.5 399.4,195 402.5,198.1 404.4,200 405,202.5" fill="none"/>
<polyline points="403.1,192.8 404.4,195 406.2,196.9 408.1,198.8 410,199.4 411.9,197.5" fill="none"/>
<polyline points="404.4,200 406.2,199.4 408.1,198.8" fill="none"/>
<polyline points="405,202.5 405.6,200 407.5,200.6 408.1,203.8 406.9,206.9" fill="none"/>
<polyline points="407.5,200.6 410,201.2 411.9,200.0" fill="none"/>
<polyline points="410,177.5 415,177.5 421.2,176.9 426.2,175 430,176.2 435,177.5 440,179.4 443.8,182.5 443.5,185 441.2,186.9" fill="none"/>
<polyline points="410.6,180.6 413.8,178.1 415,177.5" fill="none"/>
<polyline points="408.1,170.2 412.5,167.5 415,165.6 420,165 423.8,167.5 426.2,170.6 425,173.8 426.2,175.0" fill="none"/>
<polyline points="383.1,158.8 384.4,155 385,150 387.5,145 391.2,140 395,136.2 398.1,135 402.5,136.9 405,135.6 410,132.5 413.8,132.2" fill="none"/>
<polyline points="398.1,135 402.5,136.9 403.8,140 405,142.5" fill="none"/>
<polyline points="413.8,132.2 413.1,136.2 415,140.6 416.2,145 419.4,150.6 416.2,154.4 415,156.0" fill="none"/>
<polyline points="408.1,157.8 415,156.9 415.6,160 414.4,161.9" fill="none"/>
<polyline points="405,161.9 410,161.2 414.4,161.9 416.2,163.8 415,165.6 411.9,165 408.1,164.4 405,165 401.9,165.6" fill="none"/>
<polyline points="415,165.6 415,168.1 412.5,169.4 409.4,169.4 408.1,170.2 405.6,169.4 405,168.1 401.2,168.1" fill="none"/>
<polyline points="401.2,168.1 401.9,169.8 405.6,169.4" fill="none"/>
<polyline points="381.2,166.9 383.1,167.5 383.8,168.8" fill="none"/>
<polyline points="371.2,175.6 373.8,176.2 376.2,175 376.2,172.5" fill="none"/>
<polyline points="349.4,169 351.5,170 351.5,172.5" fill="none"/>
<polyline points="441.9,216 445.6,215 451.2,214 457.5,213.1 458.8,210 458.1,207.5 456.2,205 455,202.8 450.6,201.9" fill="none"/>
<polyline points="445.6,197.2 451.2,198.8 456.2,200 460.6,202.8 464.4,203.8" fill="none"/>
<polyline points="455,202.8 458.1,203.5 460.6,202.8" fill="none"/>
<polyline points="456.2,205 458.8,204.4 460.6,206.9 461.2,209 459.4,208.8 458.1,207.5" fill="none"/>
<polyline points="460.6,206.9 463.1,207.5 465,208.8" fill="none"/>
<polyline points="458.8,210 460.6,213.8 462.5,220 465,223.8 468.8,228.8 469.4,232.2" fill="none"/>
<polyline points="457.5,213.1 455.6,218.1 450,221.9 448.8,223.1 449.4,226.9 452.5,228.8 462.5,235 467.5,235.6 468.8,233.1" fill="none"/>
<polyline points="449.4,226.9 445.6,228.8 446.9,231.2 443.8,234.4 440.6,235.0" fill="none"/>
<polyline points="441,223.8 441.9,223.8 441.5,228.8 440.6,235 439.8,232.5" fill="none"/>
<polyline points="441.5,220.6 443.1,220 442.8,218.1 441.5,217.8" fill="none"/>
<polyline points="441.9,225 444.4,225.6 448.8,223.1" fill="none"/>
<polyline points="476.2,203.1 478.8,201.9 480,199.4 482.5,200 485,201.2 488.8,203.8 492.5,205.6 497.5,208.8 502.5,211.9 506.9,213.1 503.8,215.6 500,218.1 496.2,219.4" fill="none"/>
<polyline points="478.1,194.4 482.5,192.5 487.5,193.8 492.5,196.9 497.5,196.9 501.2,200 505,203.1 507.5,205 510,203.1 513.8,201.2" fill="none"/>
<polyline points="478.1,194.4 480,196.9 480,199.4" fill="none"/>
<polyline points="456.9,182.5 460.6,178.8 465,176.2 471.2,178.8 477.5,179 483.1,178.8 485,176.9 482.5,175 483.1,171.9 486.2,170.0" fill="none"/>
<polyline points="456.9,182.5 457.5,186.2 460.6,188.8 463.1,190.6" fill="none"/>
<polyline points="424.4,170 426.9,174.4 430,175.6 433.8,178.8 438.8,180.6 443.1,182.5 443.8,186.2 441.9,188.8" fill="none"/>
<polyline points="460.8,266.7 465,265 470.8,265.8 474.2,263.3 481.7,261.3 487.5,255.8 488.3,248.3" fill="none"/>
<polyline points="481.7,261.3 484.2,267.5" fill="none"/>
<polyline points="476.7,243.3 480.8,246.7 484.2,247.5 487.5,246.7" fill="none"/>
<polyline points="481.2,178.8 482.5,172.5 488.8,170 496.2,167.5 505,171.2 511.2,170 520,176.2 527.5,178.8 537.5,182.5 536.2,187.5 531.2,190 530,196.2 528,199.5" fill="none"/>
<polyline points="537.5,182.5 542.5,180 550,179.5 557.5,176.2 563.8,178.8 572.5,180.5 582.5,182.5 592.5,180.5 598.8,181.2 597.5,185 603.8,187 607.5,188.8 600,191.2 595,196.2 587.5,200 580,201.2 570,200 560,196.2 550,193.8 543.8,187.5 537.5,182.5" fill="none"/>
<polyline points="590,181.2 598.8,180 599.5,174.2 606.2,173 615,177.5 623.8,183.8 630,187.5 636.2,185.5 637,193.8 634.5,196.2 638,198.2" fill="none"/>
<polyline points="630,207 633.8,202.5 638,198.2" fill="none"/>
<polyline points="635.5,208 640,210.0" fill="none"/>
<polyline points="590,257 588.5,255 586.5,252 585,249.5 583,247 582.5,244 584,241.5 583.5,240.0" fill="none"/>
<polyline points="594,252.8 593,251 591.5,250 590,252 588.5,255.0" fill="none"/>
<polyline points="478.1,213.1 482.5,211.2 486.9,211.9 491.2,213.8 495,217.5 496.2,219.4" fill="none"/>
<polyline points="495.8,218.3 496.7,225 498.3,230 498,234.2 502.5,240 500.8,245.0" fill="none"/>
<polyline points="495.8,218.3 500,215.8 505,212.5 509.2,211.7 513.3,212.5 517.5,210.8 520,212.5 524.2,212.5 520.8,214.2 518.3,215.8 517.5,220 515.8,223.3 513.3,227.5 510,230 506.7,233.3 500.8,234.2 498,234.2" fill="none"/>
<polyline points="530,218.3 525,220.8 527.5,225.8 528.3,230 525,233.3 520,238.3 518,243.3 521.7,246.7 517.5,248.3 516.3,247.2" fill="none"/>
<polyline points="524.2,212.5 530,217.5 533.3,220 535.8,224.2 536.7,228.3 540.8,231.7 544.2,231.3 550,234.2 556.7,236.7 560.8,237.5 562.5,237.5 568.3,237 570.8,237.5 575.8,234.2 580,237.5" fill="none"/>
<polyline points="540.8,231.7 542.5,235 548.3,237.5 555,240 561.3,240.8 560.8,237.5" fill="none"/>
<polyline points="562.5,237.5 563.3,240.3 569.2,240.3 570.8,238.7 570.8,237.5" fill="none"/>
<polyline points="560.8,242.5 563.3,242 565.8,243.3 569.2,244.2 570,246.7 570.8,251.7 571.3,255.8" fill="none"/>
<polyline points="560.8,242.5 560,245.8 562.5,250 563.3,253.3" fill="none"/>
<polyline points="580,237.5 581.7,242.5 578.3,245.8 575.8,250 573.3,254.2 571.7,255.8" fill="none"/>
<polyline points="580,237.5 584.2,240 583.3,245.8 585,248.3" fill="none"/>
<polyline points="509.2,200 515,198.3 521.7,199.2 530,200 531.7,202.5 526.7,205 521.7,206.7 515.8,205 511.7,203.3 508.3,205.0" fill="none"/>
<polyline points="507.5,207.5 511.7,206.7 515.8,207.5 520,209.2 524.2,212.5" fill="none"/>
<polyline points="530,193.3 531.7,198.3 530,200.0" fill="none"/>
<polyline points="526.7,205 524.2,209.2 524.2,212.5" fill="none"/>
</g>
<!-- header -->
<text class="ttl" x="16.5" y="40" font-size="25.6" textLength="269.5" lengthAdjust="spacingAndGlyphs">Exported deforestation,</text>
<text class="ttl" x="292.6" y="40.2" font-size="19.6" textLength="12.2" lengthAdjust="spacingAndGlyphs">2</text>
<text class="ttl" x="305" y="40.2" font-size="19.6" textLength="15" lengthAdjust="spacingAndGlyphs">0</text>
<text class="ttl" x="319.6" y="40.2" font-size="19.6" textLength="10.6" lengthAdjust="spacingAndGlyphs">1</text>
<text class="ttl" x="329.2" y="44" font-size="25" textLength="12.4" lengthAdjust="spacingAndGlyphs">3</text>
<text class="sub" x="16.3" y="66.5" textLength="693" lengthAdjust="spacingAndGlyphs">Exported deforestation is the amount of annual deforestation that is driven by the production of food and</text>
<text class="sub" x="16.3" y="83.5" textLength="658" lengthAdjust="spacingAndGlyphs">forestry products that are exported for consumption in other countries. This is measured in hectares.</text>
<!-- logo -->
<rect x="769" y="16" width="65" height="36" fill="#002147"/>
<rect x="769" y="49.2" width="65" height="2.8" fill="#ce261e"/>
<text x="801.5" y="30.6" font-size="12" font-weight="bold" fill="#fff" text-anchor="middle" textLength="55" lengthAdjust="spacingAndGlyphs">Our World</text>
<text x="801.7" y="42.6" font-size="12" font-weight="bold" fill="#fff" text-anchor="middle" textLength="36.5" lengthAdjust="spacingAndGlyphs">in Data</text>
<!-- legend -->
<g>
<rect x="157.8" y="501.3" width="47.5" height="11" fill="url(#hatchL)" stroke="#b5b5b5" stroke-width="0.7"/>
<rect x="225" y="501.3" width="77.7" height="11.2" fill="#edf8fb"/>
<rect x="302.7" y="501.3" width="77.7" height="11.2" fill="#ccece6"/>
<rect x="380.4" y="501.3" width="77.7" height="11.2" fill="#99d8c9"/>
<rect x="458.1" y="501.3" width="77.7" height="11.2" fill="#66c2a4"/>
<rect x="535.8" y="501.3" width="77.7" height="11.2" fill="#2ca25f"/>
<path d="M613.5 501.3H687.5L692.2 506.9L687.5 512.5H613.5Z" fill="#006d2c"/>
<path d="M225 501.3H687.5L692.2 506.9L687.5 512.5H225Z" fill="none" stroke="#999" stroke-width="0.6"/>
<path d="M225.2 499.4V512.5M302.9 499.4V512.5M380.6 499.4V512.5M458.3 499.4V512.5M536 499.4V512.5M613.7 499.4V512.5M181.6 498.6V501.3" stroke="#6e6e6e" stroke-width="0.7"/>
<text class="lg" x="181.7" y="494.7" textLength="46.5" lengthAdjust="spacingAndGlyphs">No data</text>
<text class="lg" x="224.8" y="494.7" textLength="25" lengthAdjust="spacingAndGlyphs">0 ha</text>
<text class="lg" x="302.9" y="494.7" textLength="59" lengthAdjust="spacingAndGlyphs">10,000 ha</text>
<text class="lg" x="380.6" y="494.7" textLength="59" lengthAdjust="spacingAndGlyphs">25,000 ha</text>
<text class="lg" x="458.3" y="494.7" textLength="59" lengthAdjust="spacingAndGlyphs">50,000 ha</text>
<text class="lg" x="536" y="494.7" textLength="67" lengthAdjust="spacingAndGlyphs">100,000 ha</text>
<text class="lg" x="613.7" y="494.7" textLength="67" lengthAdjust="spacingAndGlyphs">250,000 ha</text>
</g>
<!-- footer -->
<text class="ft" x="16.3" y="544.8" font-weight="bold" textLength="71" lengthAdjust="spacingAndGlyphs">Data source:</text>
<text class="ft" x="92.3" y="544.8" textLength="697.8" lengthAdjust="spacingAndGlyphs">Pendrill, F., Persson, U. M., Godar, J., &amp; Kastner, T. (2019). Deforestation displaced: trade in forest-risk commodities and the</text>
<text class="ft" x="16.3" y="560.8" textLength="220.5" lengthAdjust="spacingAndGlyphs">prospects for a global forest transition.</text>
<text class="ft" x="16.3" y="580.8" textLength="316.3" lengthAdjust="spacingAndGlyphs">OurWorldinData.org/forests-and-deforestation | CC BY</text>
</svg>
</body>
</html>
